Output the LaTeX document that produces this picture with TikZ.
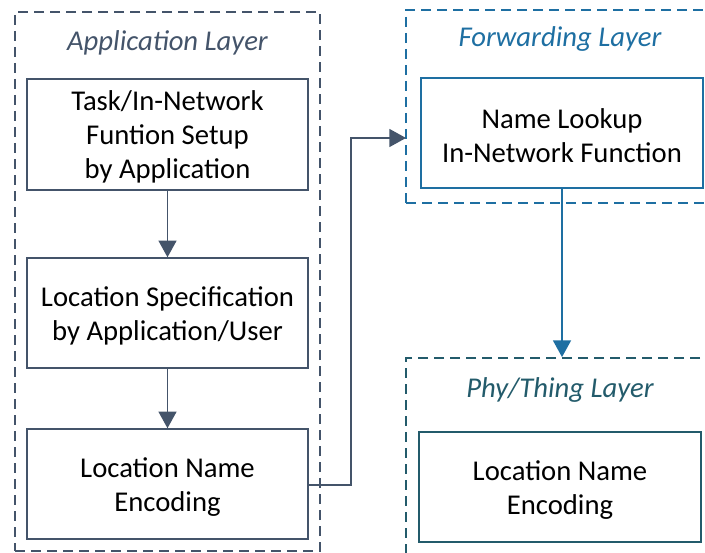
\documentclass[tikz,border=0pt]{standalone}
\usepackage{fontspec}
\setmainfont{Carlito}
\usetikzlibrary{arrows.meta,fit}
\definecolor{appc}{HTML}{44546A}
\definecolor{fwdc}{HTML}{1E6FA2}
\definecolor{phyc}{HTML}{235B6B}
\tikzset{
  layer/.style={draw, dashed, dash pattern=on 7.5pt off 4.5pt, line width=1.4pt, inner sep=0pt},
  box/.style={draw, line width=1.1pt, inner sep=0pt},
  txt/.style={inner sep=0pt, align=center, text=black,
    font=\fontsize{21.5}{25.5}\selectfont},
  ttl/.style={font=\fontsize{21.5}{25}\selectfont\itshape, anchor=base, inner sep=0pt},
  conn/.style={line width=1.1pt, -{Triangle[width=13.5pt,length=12.5pt]}},
}
\begin{document}
\begin{tikzpicture}[x=0.75pt,y=-0.75pt]
\useasboundingbox (0,0) rectangle (705,552);
\clip (0,0) rectangle (705,552);
% layers
\node[layer, appc, fit={(15,12) (320,551)}] (appL) {};
\node[layer, fwdc, fit={(406,10) (730,203)}] (fwdL) {};
\node[layer, phyc, fit={(406,358) (730,580)}] (phyL) {};
% titles
\node[ttl, text=appc] (appT) at (167.5,51) {Application Layer};
\node[ttl, text=fwdc] (fwdT) at (560,47) {Forwarding Layer};
\node[ttl, text=phyc] (phyT) at (560,397) {Phy/Thing Layer};
% boxes
\node[box, draw=appc, fit={(27,79) (308,190)}] (b1) {};
\node[box, draw=appc, fit={(27,258) (308,368)}] (b2) {};
\node[box, draw=appc, fit={(27,429) (308,539)}] (b3) {};
\node[box, draw=fwdc, fit={(421,78) (703,188)}] (fb) {};
\node[box, draw=phyc, fit={(419,432) (701,542)}] (pb) {};
% box texts
\node[txt] (b1t) at ([yshift=-2pt]b1.center) {Task/In-Network\\Funtion Setup\\by Application};
\node[txt] (b2t) at ([yshift=-2pt]b2.center) {Location Specification\\by Application/User};
\node[txt] (b3t) at ([yshift=-2pt]b3.center) {Location Name\\Encoding};
\node[txt] (fbt) at ([yshift=-2pt]fb.center) {Name Lookup\\In-Network Function};
\node[txt] (pbt) at ([yshift=-2pt]pb.center) {Location Name\\Encoding};
% connectors
\draw[conn, appc] (b1.south) -- (b2.north);
\draw[conn, appc] (b2.south) -- (b3.north);
\coordinate (turn) at (351,485);
\coordinate (tgt) at (406,138);
\draw[conn, appc] (b3.east |- turn) -- (turn) |- (tgt);
\draw[conn, fwdc] (fb.south) -- (fb.south |- phyL.north);
\end{tikzpicture}
\end{document}
